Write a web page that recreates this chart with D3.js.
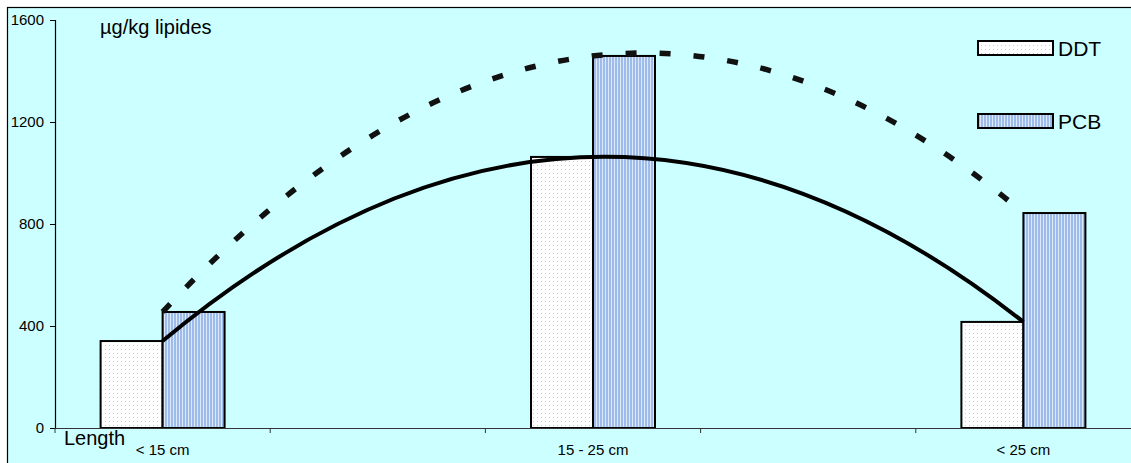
<!DOCTYPE html>
<html>
<head>
<meta charset="utf-8">
<script src="https://cdn.jsdelivr.net/npm/d3@7"></script>
<style>
  html, body { margin: 0; padding: 0; background: #ffffff; }
  svg { display: block; font-family: "Liberation Sans", Arial, sans-serif; }
</style>
</head>
<body>
<svg id="chart" width="1131" height="463"></svg>
<script>
// ---- data ----
const categories = ["< 15 cm", "", "15 - 25 cm", "", "< 25 cm"];
const seriesNames = ["DDT", "PCB"];
const ddtValues = [341, null, 1063, null, 416];
const pcbValues = [455, null, 1459, null, 843];
const yTicks = [0, 400, 800, 1200, 1600];
const unitLabel = "µg/kg lipides";
const axisTitle = "Length";

const svg = d3.select("#chart");
const W = 1131, H = 463;
const plot = { left: 55, right: 1131, top: 20, bottom: 428 };

// patterns
const defs = svg.append("defs");
const dots = defs.append("pattern").attr("id", "dots")
  .attr("patternUnits", "userSpaceOnUse").attr("width", 4).attr("height", 4);
dots.append("rect").attr("width", 4).attr("height", 4).attr("fill", "#ffffff");
dots.append("rect").attr("x", 1).attr("y", 1).attr("width", 1).attr("height", 1).attr("fill", "#b8ccee");
const stripes = defs.append("pattern").attr("id", "stripes")
  .attr("patternUnits", "userSpaceOnUse").attr("width", 3).attr("height", 4);
stripes.append("rect").attr("width", 3).attr("height", 4).attr("fill", "#dde8fa");
stripes.append("rect").attr("x", 0).attr("width", 2).attr("height", 4).attr("fill", "#9dbcea");

// background frame
svg.append("rect").attr("x", 7.5).attr("y", 7.5).attr("width", W).attr("height", H)
  .attr("fill", "#ccffff").attr("stroke", "#000").attr("stroke-width", 1.2);

// scales
const x = d3.scaleBand().domain(d3.range(categories.length))
  .range([plot.left, plot.right]).paddingInner(0).paddingOuter(0);
const inner = d3.scaleBand().domain(seriesNames).range([0, 124]);
const groupOffset = (x.bandwidth() - 124) / 2;
const y = d3.scaleLinear().domain([0, 1600]).range([plot.bottom, plot.top]);

// y axis
const yAxis = d3.axisLeft(y).tickValues(yTicks).tickFormat(d3.format("d")).tickSize(5).tickPadding(6);
const yg = svg.append("g").attr("transform", `translate(${plot.left},0)`).call(yAxis);
yg.select(".domain").attr("stroke", "#000").attr("stroke-width", 1.2);
yg.selectAll(".tick line").attr("stroke", "#000");
yg.selectAll(".tick text").attr("font-size", 15).attr("fill", "#000")
  .attr("font-family", "Liberation Sans, Arial, sans-serif");

// bars
const bars = [];
categories.forEach((c, i) => {
  if (ddtValues[i] != null) bars.push({ i, s: "DDT", v: ddtValues[i] });
  if (pcbValues[i] != null) bars.push({ i, s: "PCB", v: pcbValues[i] });
});
svg.append("g").selectAll("rect").data(bars).join("rect")
  .attr("x", d => x(d.i) + groupOffset + inner(d.s))
  .attr("y", d => y(d.v))
  .attr("width", inner.bandwidth())
  .attr("height", d => y(0) - y(d.v))
  .attr("fill", d => d.s === "DDT" ? "url(#dots)" : "url(#stripes)")
  .attr("stroke", "#000").attr("stroke-width", 2);

// x axis
const xAxis = d3.axisBottom(x).tickFormat(() => "").tickSize(0);
const xg = svg.append("g").attr("transform", `translate(0,${plot.bottom})`).call(xAxis);
xg.select(".domain").attr("stroke", "#333").attr("stroke-width", 1);
// boundary ticks
const bounds = d3.range(categories.length).map(i => x(i));
svg.append("g").selectAll("line").data(bounds).join("line")
  .attr("x1", d => d).attr("x2", d => d)
  .attr("y1", plot.bottom).attr("y2", plot.bottom + 5)
  .attr("stroke", "#333").attr("stroke-width", 1);
svg.append("g").selectAll("text").data(categories.map((c, i) => ({ c, i })).filter(d => d.c))
  .join("text")
  .attr("x", d => x(d.i) + x.bandwidth() / 2)
  .attr("y", 455)
  .attr("text-anchor", "middle").attr("font-size", 15).attr("fill", "#000")
  .text(d => d.c);

// trend curves through series points (parabola via quadratic bezier)
function curvePath(vals) {
  const pts = vals.map((v, i) => v == null ? null : [x(i) + x.bandwidth() / 2, y(v)]).filter(p => p);
  const [p0, p1, p2] = pts;
  const cx = 2 * p1[0] - (p0[0] + p2[0]) / 2;
  const cy = 2 * p1[1] - (p0[1] + p2[1]) / 2;
  const p = d3.path();
  p.moveTo(p0[0], p0[1]);
  p.quadraticCurveTo(cx, cy, p2[0], p2[1]);
  return p.toString();
}
svg.append("path").attr("d", curvePath(ddtValues))
  .attr("fill", "none").attr("stroke", "#000").attr("stroke-width", 4);
svg.append("path").attr("d", curvePath(pcbValues))
  .attr("fill", "none").attr("stroke", "#111").attr("stroke-width", 5.5)
  .attr("stroke-dasharray", "11 23");

// legend
const legendItems = [{ s: "DDT", y: 41, fill: "url(#dots)" }, { s: "PCB", y: 114, fill: "url(#stripes)" }];
const lg = svg.append("g");
lg.selectAll("rect").data(legendItems).join("rect")
  .attr("x", 978).attr("y", d => d.y).attr("width", 75).attr("height", 14)
  .attr("fill", d => d.fill).attr("stroke", "#000").attr("stroke-width", 2);
lg.selectAll("text").data(legendItems).join("text")
  .attr("x", 1058).attr("y", d => d.y + 14.5)
  .attr("font-size", 21).attr("fill", "#000").text(d => d.s);

// labels
svg.append("text").attr("x", 100).attr("y", 34).attr("font-size", 20).attr("fill", "#000").text(unitLabel);
svg.append("text").attr("x", 64).attr("y", 445).attr("font-size", 20).attr("fill", "#000").text(axisTitle);
</script>
</body>
</html>
